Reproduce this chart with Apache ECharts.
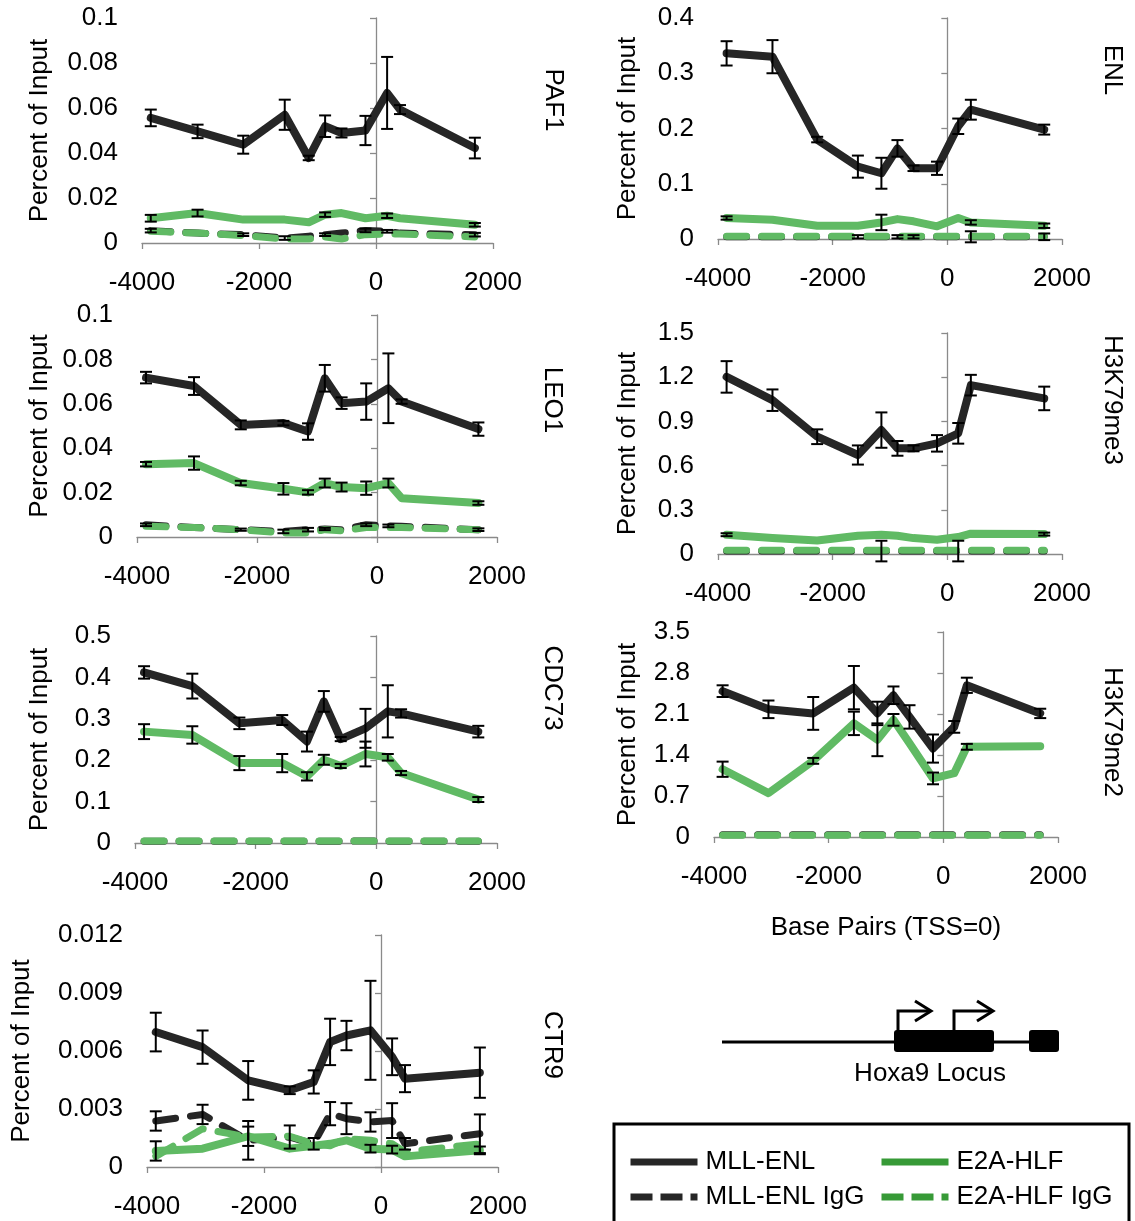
<!DOCTYPE html>
<html><head><meta charset="utf-8">
<script src="https://cdn.jsdelivr.net/npm/echarts@6/dist/echarts.min.js"></script>
<style>html,body{margin:0;padding:0;background:#fff}#c{width:1135px;height:1221px}</style>
</head><body><div id="c"></div>
<script>
// ---------------- data ----------------
const POSITIONS = [-3850, -3050, -2270, -1560, -1150, -870, -590, -180, 190, 410, 1690];
const X_TICKS = [-4000, -2000, 0, 2000];
const SERIES_NAMES = ['MLL-ENL', 'MLL-ENL IgG', 'E2A-HLF', 'E2A-HLF IgG'];
const PANEL_NAMES = ['PAF1', 'ENL', 'LEO1', 'H3K79me3', 'CDC73', 'H3K79me2', 'CTR9'];
const Y_MAX = [0.1, 0.4, 0.1, 1.5, 0.5, 3.5, 0.012];
const Y_STEP = [0.02, 0.1, 0.02, 0.3, 0.1, 0.7, 0.003];

// PAF1
const PAF1_MLL_ENL = [0.0556, 0.0496, 0.0437, 0.0570, 0.0378, 0.0519, 0.0489, 0.0500, 0.0667, 0.0593, 0.0422];
const PAF1_MLL_ENL_ERR = [0.0037, 0.0030, 0.0040, 0.0067, 0.0010, 0.0048, 0.0020, 0.0065, 0.0160, 0.0020, 0.0046];
const PAF1_MLL_ENL_IGG = [0.0055, 0.0044, 0.0037, 0.0022, 0.0030, 0.0037, 0.0044, 0.0056, 0.0052, 0.0044, 0.0037];
const PAF1_MLL_ENL_IGG_ERR = [0.0008, 0, 0.0006, 0.0008, 0, 0.0006, 0, 0.0008, 0.0006, 0, 0.0008];
const PAF1_E2A_HLF = [0.0110, 0.0133, 0.0104, 0.0104, 0.0092, 0.0126, 0.0133, 0.0110, 0.0121, 0.0110, 0.0081];
const PAF1_E2A_HLF_ERR = [0.0015, 0.0015, 0, 0, 0, 0.0010, 0, 0, 0.0010, 0, 0.0008];
const PAF1_E2A_HLF_IGG = [0.0052, 0.0044, 0.0033, 0.0018, 0.0018, 0.0027, 0.0018, 0.0037, 0.0040, 0.0040, 0.0027];
const PAF1_E2A_HLF_IGG_ERR = [0, 0, 0, 0, 0, 0, 0, 0, 0, 0, 0];

// ENL
const ENL_MLL_ENL = [0.336, 0.330, 0.180, 0.131, 0.119, 0.164, 0.128, 0.128, 0.204, 0.234, 0.198];
const ENL_MLL_ENL_ERR = [0.022, 0.030, 0.005, 0.020, 0.028, 0.015, 0.005, 0.012, 0.014, 0.018, 0.009];
const ENL_MLL_ENL_IGG = [0.004, 0.004, 0.004, 0.004, 0.004, 0.004, 0.004, 0.004, 0.004, 0.004, 0.004];
const ENL_MLL_ENL_IGG_ERR = [0, 0, 0, 0.003, 0, 0.003, 0.003, 0, 0, 0.010, 0.006];
const ENL_E2A_HLF = [0.038, 0.035, 0.024, 0.024, 0.030, 0.036, 0.032, 0.023, 0.038, 0.030, 0.024];
const ENL_E2A_HLF_ERR = [0.003, 0, 0, 0, 0.014, 0, 0, 0, 0, 0.004, 0.004];
const ENL_E2A_HLF_IGG = [0.005, 0.005, 0.005, 0.005, 0.005, 0.005, 0.005, 0.005, 0.005, 0.005, 0.005];
const ENL_E2A_HLF_IGG_ERR = [0, 0, 0, 0, 0, 0, 0, 0, 0, 0, 0];

// LEO1
const LEO1_MLL_ENL = [0.0718, 0.0680, 0.0505, 0.0513, 0.0475, 0.0715, 0.0603, 0.0610, 0.0670, 0.0610, 0.0486];
const LEO1_MLL_ENL_ERR = [0.0026, 0.0040, 0.0020, 0.0010, 0.0037, 0.0060, 0.0026, 0.0082, 0.0157, 0.0010, 0.0030];
const LEO1_MLL_ENL_IGG = [0.0055, 0.0043, 0.0033, 0.0025, 0.0033, 0.0036, 0.0033, 0.0055, 0.0050, 0.0048, 0.0033];
const LEO1_MLL_ENL_IGG_ERR = [0.0006, 0, 0.0005, 0.0008, 0.0008, 0.0005, 0, 0.0006, 0.0006, 0, 0.0006];
const LEO1_E2A_HLF = [0.0328, 0.0333, 0.0243, 0.0217, 0.0201, 0.0243, 0.0225, 0.0220, 0.0243, 0.0175, 0.0153];
const LEO1_E2A_HLF_ERR = [0.0010, 0.0030, 0.0010, 0.0026, 0.0010, 0.0020, 0.0020, 0.0030, 0.0020, 0, 0.0008];
const LEO1_E2A_HLF_IGG = [0.0048, 0.0043, 0.0033, 0.0018, 0.0018, 0.0033, 0.0028, 0.0043, 0.0043, 0.0043, 0.0033];
const LEO1_E2A_HLF_IGG_ERR = [0, 0, 0, 0, 0, 0, 0, 0, 0, 0, 0];

// H3K79me3
const H3K79ME3_MLL_ENL = [1.202, 1.044, 0.796, 0.672, 0.841, 0.717, 0.717, 0.751, 0.819, 1.146, 1.056];
const H3K79ME3_MLL_ENL_ERR = [0.107, 0.073, 0.050, 0.065, 0.120, 0.050, 0.020, 0.056, 0.070, 0.070, 0.080];
const H3K79ME3_MLL_ENL_IGG = [0.02, 0.02, 0.02, 0.02, 0.02, 0.02, 0.02, 0.02, 0.02, 0.02, 0.02];
const H3K79ME3_MLL_ENL_IGG_ERR = [0, 0, 0, 0, 0.07, 0, 0, 0, 0.07, 0, 0];
const H3K79ME3_E2A_HLF = [0.131, 0.108, 0.092, 0.124, 0.131, 0.124, 0.108, 0.097, 0.115, 0.138, 0.135];
const H3K79ME3_E2A_HLF_ERR = [0.01, 0, 0, 0, 0, 0, 0, 0, 0, 0, 0.01];
const H3K79ME3_E2A_HLF_IGG = [0.025, 0.025, 0.025, 0.025, 0.025, 0.025, 0.025, 0.025, 0.025, 0.025, 0.025];
const H3K79ME3_E2A_HLF_IGG_ERR = [0, 0, 0, 0, 0, 0, 0, 0, 0, 0, 0];

// CDC73
const CDC73_MLL_ENL = [0.412, 0.379, 0.289, 0.297, 0.245, 0.342, 0.251, 0.277, 0.318, 0.313, 0.269];
const CDC73_MLL_ENL_ERR = [0.015, 0.030, 0.014, 0.012, 0.024, 0.025, 0.005, 0.047, 0.063, 0.010, 0.014];
const CDC73_MLL_ENL_IGG = [0.004, 0.004, 0.004, 0.004, 0.004, 0.004, 0.004, 0.005, 0.004, 0.004, 0.004];
const CDC73_MLL_ENL_IGG_ERR = [0, 0, 0, 0, 0, 0, 0, 0, 0, 0, 0];
const CDC73_E2A_HLF = [0.269, 0.261, 0.193, 0.193, 0.161, 0.201, 0.186, 0.215, 0.207, 0.169, 0.105];
const CDC73_E2A_HLF_ERR = [0.018, 0.021, 0.017, 0.022, 0.010, 0.012, 0.005, 0.030, 0.008, 0.005, 0.006];
const CDC73_E2A_HLF_IGG = [0.005, 0.005, 0.005, 0.005, 0.005, 0.005, 0.005, 0.005, 0.005, 0.005, 0.005];
const CDC73_E2A_HLF_IGG_ERR = [0, 0, 0, 0, 0, 0, 0, 0, 0, 0, 0];

// H3K79me2
const H3K79ME2_MLL_ENL = [2.49, 2.18, 2.11, 2.55, 2.11, 2.42, 2.05, 1.51, 1.88, 2.59, 2.11];
const H3K79ME2_MLL_ENL_ERR = [0.10, 0.15, 0.28, 0.37, 0.20, 0.15, 0.20, 0.24, 0.10, 0.13, 0.08];
const H3K79ME2_MLL_ENL_IGG = [0.04, 0.04, 0.04, 0.04, 0.04, 0.04, 0.04, 0.04, 0.04, 0.04, 0.04];
const H3K79ME2_MLL_ENL_IGG_ERR = [0, 0, 0, 0, 0, 0, 0, 0, 0, 0, 0];
const H3K79ME2_E2A_HLF = [1.157, 0.749, 1.30, 1.94, 1.66, 2.00, 1.60, 1.00, 1.09, 1.54, 1.55];
const H3K79ME2_E2A_HLF_ERR = [0.13, 0, 0.05, 0.20, 0.28, 0.10, 0, 0.10, 0, 0.05, 0];
const H3K79ME2_E2A_HLF_IGG = [0.03, 0.03, 0.03, 0.03, 0.03, 0.03, 0.03, 0.03, 0.03, 0.03, 0.03];
const H3K79ME2_E2A_HLF_IGG_ERR = [0, 0, 0, 0, 0, 0, 0, 0, 0, 0, 0];

// CTR9
const CTR9_MLL_ENL = [0.00698, 0.0062, 0.00448, 0.00397, 0.0044, 0.00647, 0.0068, 0.00707, 0.0057, 0.00457, 0.00488];
const CTR9_MLL_ENL_ERR = [0.0010, 0.00086, 0.0010, 0.0002, 0.0006, 0.0012, 0.00076, 0.00256, 0.00095, 0.0007, 0.0013];
const CTR9_MLL_ENL_IGG = [0.00238, 0.00272, 0.00138, 0.00155, 0.0012, 0.00276, 0.0025, 0.00233, 0.0024, 0.0012, 0.00172];
const CTR9_MLL_ENL_IGG_ERR = [0.0005, 0.0005, 0.0010, 0.0006, 0.0003, 0.0006, 0.0008, 0.0005, 0.0009, 0.0003, 0.0010];
const CTR9_E2A_HLF = [0.00083, 0.00095, 0.00159, 0.00095, 0.0011, 0.0012, 0.00138, 0.00095, 0.0009, 0.00055, 0.00086];
const CTR9_E2A_HLF_ERR = [0.0005, 0, 0.0005, 0, 0, 0, 0, 0.0002, 0.0002, 0, 0.0002];
const CTR9_E2A_HLF_IGG = [0.00055, 0.00198, 0.00155, 0.00159, 0.0012, 0.0011, 0.00147, 0.00138, 0.0012, 0.00078, 0.0012];
const CTR9_E2A_HLF_IGG_ERR = [0, 0, 0, 0, 0, 0, 0, 0, 0, 0, 0];

const PANEL_VALUES = [
  [PAF1_MLL_ENL, PAF1_MLL_ENL_IGG, PAF1_E2A_HLF, PAF1_E2A_HLF_IGG],
  [ENL_MLL_ENL, ENL_MLL_ENL_IGG, ENL_E2A_HLF, ENL_E2A_HLF_IGG],
  [LEO1_MLL_ENL, LEO1_MLL_ENL_IGG, LEO1_E2A_HLF, LEO1_E2A_HLF_IGG],
  [H3K79ME3_MLL_ENL, H3K79ME3_MLL_ENL_IGG, H3K79ME3_E2A_HLF, H3K79ME3_E2A_HLF_IGG],
  [CDC73_MLL_ENL, CDC73_MLL_ENL_IGG, CDC73_E2A_HLF, CDC73_E2A_HLF_IGG],
  [H3K79ME2_MLL_ENL, H3K79ME2_MLL_ENL_IGG, H3K79ME2_E2A_HLF, H3K79ME2_E2A_HLF_IGG],
  [CTR9_MLL_ENL, CTR9_MLL_ENL_IGG, CTR9_E2A_HLF, CTR9_E2A_HLF_IGG]
];
const PANEL_ERRORS = [
  [PAF1_MLL_ENL_ERR, PAF1_MLL_ENL_IGG_ERR, PAF1_E2A_HLF_ERR, PAF1_E2A_HLF_IGG_ERR],
  [ENL_MLL_ENL_ERR, ENL_MLL_ENL_IGG_ERR, ENL_E2A_HLF_ERR, ENL_E2A_HLF_IGG_ERR],
  [LEO1_MLL_ENL_ERR, LEO1_MLL_ENL_IGG_ERR, LEO1_E2A_HLF_ERR, LEO1_E2A_HLF_IGG_ERR],
  [H3K79ME3_MLL_ENL_ERR, H3K79ME3_MLL_ENL_IGG_ERR, H3K79ME3_E2A_HLF_ERR, H3K79ME3_E2A_HLF_IGG_ERR],
  [CDC73_MLL_ENL_ERR, CDC73_MLL_ENL_IGG_ERR, CDC73_E2A_HLF_ERR, CDC73_E2A_HLF_IGG_ERR],
  [H3K79ME2_MLL_ENL_ERR, H3K79ME2_MLL_ENL_IGG_ERR, H3K79ME2_E2A_HLF_ERR, H3K79ME2_E2A_HLF_IGG_ERR],
  [CTR9_MLL_ENL_ERR, CTR9_MLL_ENL_IGG_ERR, CTR9_E2A_HLF_ERR, CTR9_E2A_HLF_IGG_ERR]
];

// ---------------- layout / style ----------------
const FONT = '"Liberation Sans", Arial, sans-serif';
const FS = 26;
const AXIS_GRAY = '#8a8a8a';
const LAYOUT = [
  {left: 142, right: 493, top: 18, bottom: 243, nameGap: 89, label: [553, 100]},
  {left: 718, right: 1062, top: 18, bottom: 239, nameGap: 77, label: [1112, 70]},
  {left: 137, right: 497, top: 315, bottom: 537, nameGap: 84, label: [552, 400]},
  {left: 718, right: 1062, top: 333, bottom: 554, nameGap: 77, label: [1112, 400]},
  {left: 135, right: 497, top: 636, bottom: 843, nameGap: 82, label: [552, 688]},
  {left: 714, right: 1058, top: 632, bottom: 837, nameGap: 73, label: [1112, 732]},
  {left: 147, right: 498, top: 935, bottom: 1167, nameGap: 112, label: [552, 1045]}
];
const STYLES = [
  {color: '#262626', width: 8, type: 'solid'},
  {color: '#262626', width: 7, type: [20, 15]},
  {color: '#60ba64', width: 8, type: 'solid'},
  {color: '#60ba64', width: 7, type: [20, 15]}
];
const LEGEND_COLORS = ['#262626', '#262626', '#379a37', '#379a37'];

function renderErr(params, api) {
  const x = api.value(0), y = api.value(1), e = api.value(2);
  const top = api.coord([x, y + e]);
  const bot = api.coord([x, y - e]);
  const h = 6;
  const style = {stroke: '#000', lineWidth: 2};
  return {type: 'group', children: [
    {type: 'line', shape: {x1: top[0], y1: top[1], x2: bot[0], y2: bot[1]}, style: style},
    {type: 'line', shape: {x1: top[0] - h, y1: top[1], x2: top[0] + h, y2: top[1]}, style: style},
    {type: 'line', shape: {x1: bot[0] - h, y1: bot[1], x2: bot[0] + h, y2: bot[1]}, style: style}
  ]};
}

const grids = [], xAxes = [], yAxes = [], series = [], graphics = [];
const labelStyle = {color: '#000', fontSize: FS, fontFamily: FONT};

PANEL_NAMES.forEach(function (pname, p) {
  const L = LAYOUT[p];
  grids.push({left: L.left, top: L.top, width: L.right - L.left, height: L.bottom - L.top,
    containLabel: false, outerBoundsMode: 'none'});
  xAxes.push({
    gridIndex: p, type: 'value', min: X_TICKS[0], max: X_TICKS[X_TICKS.length - 1],
    interval: X_TICKS[1] - X_TICKS[0],
    axisLine: {show: true, onZero: false, lineStyle: {color: AXIS_GRAY, width: 1.3}},
    axisTick: {show: true, length: 6, lineStyle: {color: AXIS_GRAY, width: 1.3}},
    splitLine: {show: false},
    axisLabel: Object.assign({margin: 27, formatter: function (v) { return String(v); }}, labelStyle),
    name: p === 5 ? 'Base Pairs (TSS=0)' : '',
    nameLocation: 'middle', nameGap: 78,
    nameTextStyle: labelStyle
  });
  // label axis (left edge)
  yAxes.push({
    gridIndex: p, type: 'value', min: 0, max: Y_MAX[p], interval: Y_STEP[p], position: 'left',
    axisLine: {show: false, onZero: false},
    axisTick: {show: false},
    splitLine: {show: false},
    axisLabel: Object.assign({margin: 24}, labelStyle),
    name: 'Percent of Input', nameLocation: 'middle', nameRotate: 90, nameGap: L.nameGap,
    nameTextStyle: labelStyle
  });
  // axis line crossing at x = 0
  yAxes.push({
    gridIndex: p, type: 'value', min: 0, max: Y_MAX[p], interval: Y_STEP[p], position: 'left',
    axisLine: {show: true, onZero: true, lineStyle: {color: AXIS_GRAY, width: 1.3}},
    axisTick: {show: true, length: 6, lineStyle: {color: AXIS_GRAY, width: 1.3}},
    splitLine: {show: false},
    axisLabel: {show: false}
  });
  SERIES_NAMES.forEach(function (sname, s) {
    const vals = PANEL_VALUES[p][s];
    const st = STYLES[s];
    series.push({
      type: 'line', name: sname, xAxisIndex: p, yAxisIndex: 2 * p,
      data: POSITIONS.map(function (x, i) { return [x, vals[i]]; }),
      symbol: 'none', showSymbol: false, silent: true, z: 2 + s,
      color: st.color,
      lineStyle: {color: st.color, width: st.width, type: st.type, cap: 'round', join: 'round'}
    });
  });
  SERIES_NAMES.forEach(function (sname, s) {
    const vals = PANEL_VALUES[p][s];
    const errs = PANEL_ERRORS[p][s];
    const d = [];
    POSITIONS.forEach(function (x, i) { if (errs[i] > 0) d.push([x, vals[i], errs[i]]); });
    if (!d.length) return;
    series.push({
      type: 'custom', name: sname + ' error', xAxisIndex: p, yAxisIndex: 2 * p,
      renderItem: renderErr, data: d, silent: true, z: 10,
      encode: {x: 0, y: 1}
    });
  });
  graphics.push({
    type: 'text', x: L.label[0], y: L.label[1], rotation: -Math.PI / 2,
    style: {text: pname, font: FS + 'px ' + FONT, fill: '#000',
      align: 'center', verticalAlign: 'middle', textAlign: 'center', textVerticalAlign: 'middle'}
  });
});

// Hoxa9 locus sketch
const lineSt = {stroke: '#000', lineWidth: 3, fill: null};
graphics.push(
  {type: 'line', shape: {x1: 722, y1: 1042, x2: 1040, y2: 1042}, style: lineSt},
  {type: 'rect', shape: {x: 894, y: 1030, width: 100, height: 22, r: 3}, style: {fill: '#000'}},
  {type: 'rect', shape: {x: 1029, y: 1030, width: 30, height: 22, r: 3}, style: {fill: '#000'}},
  {type: 'polyline', shape: {points: [[898, 1031], [898, 1011], [930, 1011]]}, style: lineSt},
  {type: 'polyline', shape: {points: [[915, 1001], [931, 1011], [915, 1021]]}, style: lineSt},
  {type: 'polyline', shape: {points: [[954, 1031], [954, 1011], [992, 1011]]}, style: lineSt},
  {type: 'polyline', shape: {points: [[977, 1001], [993, 1011], [977, 1021]]}, style: lineSt},
  {type: 'text', x: 930, y: 1074, style: {text: 'Hoxa9 Locus', font: FS + 'px ' + FONT, fill: '#000',
    align: 'center', verticalAlign: 'middle', textAlign: 'center', textVerticalAlign: 'middle'}},
  {type: 'rect', shape: {x: 614, y: 1124, width: 515, height: 120}, style: {fill: null, stroke: '#000', lineWidth: 3}}
);

function legendItem(name, idx) {
  const dashed = idx % 2 === 1;
  return {name: name,
    lineStyle: {color: LEGEND_COLORS[idx], width: 7, type: dashed ? [22, 8] : 'solid', cap: 'butt', opacity: 1},
    itemStyle: {opacity: 0}};
}
const legendCommon = {
  orient: 'vertical', itemWidth: 67, itemHeight: 7, itemGap: 9,
  textStyle: {color: '#000', fontSize: FS, fontFamily: FONT, padding: [0, 0, 0, 3]},
  selectedMode: false, itemStyle: {opacity: 0}
};
const option = {
  animation: false,
  backgroundColor: '#fff',
  grid: grids, xAxis: xAxes, yAxis: yAxes, series: series,
  legend: [
    Object.assign({left: 622, top: 1144, data: [legendItem(SERIES_NAMES[0], 0), legendItem(SERIES_NAMES[1], 1)]}, legendCommon),
    Object.assign({left: 873, top: 1144, data: [legendItem(SERIES_NAMES[2], 2), legendItem(SERIES_NAMES[3], 3)]}, legendCommon)
  ],
  graphic: {elements: graphics}
};
const chart = echarts.init(document.getElementById('c'), null, {renderer: 'canvas'});
chart.setOption(option);
</script>
</body></html>
